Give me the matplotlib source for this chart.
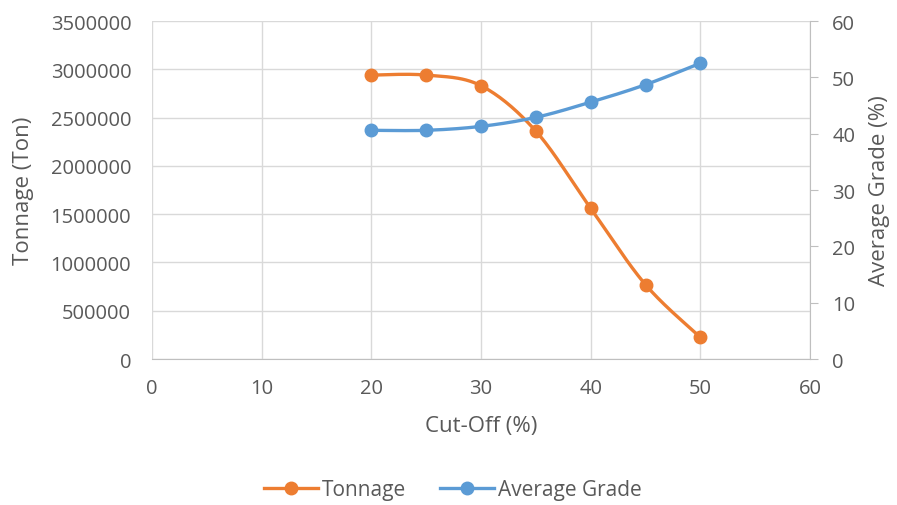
import numpy as np
import matplotlib
matplotlib.use("Agg")
from matplotlib import pyplot as plt
from matplotlib.lines import Line2D

cut_off = [20, 25, 30, 35, 40, 45, 50]
tonnage = [2940000, 2940000, 2830000, 2360000, 1560000, 770000, 225000]
avg_grade = [40.6, 40.6, 41.3, 42.9, 45.6, 48.7, 52.5]

orange = '#ED7D31'
blue = '#5B9BD5'
text_c = '#595959'
grid_c = '#D9D9D9'

plt.rcParams['font.family'] = ['Open Sans', 'DejaVu Sans']


def smooth(xs, ys, n=30):
    # Excel style smoothing: bezier segments with catmull-rom control points
    p = np.column_stack([xs, ys]).astype(float)
    pts = np.vstack([p[0], p, p[-1]])
    out = []
    t = np.linspace(0, 1, n)[:, None]
    for i in range(1, len(pts) - 2):
        p0, p1, p2, p3 = pts[i - 1], pts[i], pts[i + 1], pts[i + 2]
        c1 = p1 + (p2 - p0) / 6
        c2 = p2 - (p3 - p1) / 6
        seg = ((1 - t) ** 3) * p1 + 3 * ((1 - t) ** 2) * t * c1 + 3 * (1 - t) * t ** 2 * c2 + t ** 3 * p2
        out.append(seg if i == 1 else seg[1:])
    out = np.vstack(out)
    return out[:, 0], out[:, 1]


fig = plt.figure(figsize=(8.97, 5.06), dpi=100)
ax = fig.add_axes([0.1695, 0.2885, 0.7335, 0.668])
ax2 = ax.twinx()

sx, sy = smooth(cut_off, tonnage)
ax.plot(sx, sy, color=orange, lw=2.4, solid_capstyle='round', zorder=3)
ax.plot(cut_off, tonnage, 'o', color=orange, ms=9, zorder=4)

sx, sy = smooth(cut_off, avg_grade)
ax2.plot(sx, sy, color=blue, lw=2.4, solid_capstyle='round', zorder=3)
ax2.plot(cut_off, avg_grade, 'o', color=blue, ms=9, zorder=4)

ax.set_xlim(0, 60)
ax.set_xticks(range(0, 61, 10))
ax.set_ylim(0, 3500000)
ax.set_yticks(range(0, 3500001, 500000))
ax.set_yticklabels([str(v) for v in range(0, 3500001, 500000)])
ax2.set_ylim(0, 60)
ax2.set_yticks(range(0, 61, 10))

ax.grid(True, color=grid_c, lw=1)
ax.set_axisbelow(True)

for a in (ax, ax2):
    for s in a.spines.values():
        s.set_visible(False)
ax2.spines['bottom'].set_visible(True)
ax2.spines['bottom'].set_color('#BFBFBF')
ax2.spines['right'].set_visible(True)
ax2.spines['right'].set_color('#BFBFBF')

ax.tick_params(axis='x', length=0, labelsize=14.5, labelcolor=text_c, pad=14)
ax.tick_params(axis='y', length=0, labelsize=14.5, labelcolor=text_c, pad=15)
ax2.tick_params(axis='y', length=6, color='#BFBFBF', labelsize=14.5, labelcolor=text_c, pad=10)

ax.set_xlabel('Cut-Off (%)', fontsize=16, color=text_c)
ax.set_ylabel('Tonnage (Ton)', fontsize=16, color=text_c)
ax2.set_ylabel('Average Grade (%)', fontsize=16, color=text_c)
ax.xaxis.set_label_coords(0.5, -0.198)
ax.yaxis.set_label_coords(-0.196, 0.5)
ax2.yaxis.set_label_coords(1.106, 0.5)
ax.xaxis.label.set_va('center')
ax.yaxis.label.set_va('center')
ax2.yaxis.label.set_va('center')

handles = [Line2D([], [], color=orange, lw=2.4, marker='o', ms=9),
           Line2D([], [], color=blue, lw=2.4, marker='o', ms=9)]
fig.legend(handles, ['Tonnage', 'Average Grade'], loc='center', bbox_to_anchor=(0.505, 0.03),
           ncol=2, frameon=False, fontsize=15, labelcolor=text_c,
           handlelength=2.6, handletextpad=0.2, columnspacing=1.6)

fig.savefig('out.png', dpi=100)
